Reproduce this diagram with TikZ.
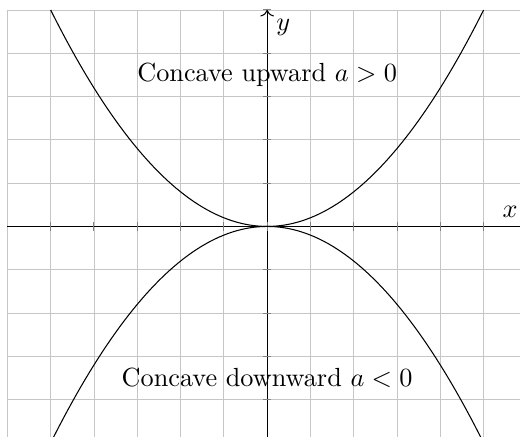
\documentclass[tikz,border=0pt]{standalone}
\usepackage{amsmath,amssymb}
\usepackage{tikz}
\usetikzlibrary{arrows.meta,positioning}

\begin{document}
\begin{tikzpicture}[
  scale=0.58,
  every node/.style={font=\normalsize},
  gridline/.style={gray!45, line width=0.3pt},
  axis/.style={->, line width=0.4pt},
  tickmark/.style={line width=0.4pt, gray},
  curve/.style={line width=0.4pt, black},
]

\useasboundingbox (-6.17,-4.86) rectangle (5.84,5.23);

% Grid
\draw[gridline] (-6,-5) grid (6,5);

% Axes
\coordinate (xmin) at (-6,0);
\coordinate (xmax) at (6,0);
\coordinate (ymin) at (0,-5);
\coordinate (ymax) at (0,5);
\draw[axis] (xmin) -- (xmax);
\draw[axis] (ymin) -- (ymax);

% Tick marks
\foreach \t in {-5,...,5} {
  \draw[tickmark] (\t,-0.1) -- (\t,0.1);
  \draw[tickmark] (-0.1,\t) -- (0.1,\t);
}

% Axis labels
\node[above left] (xlabel) at (xmax) {$x$};
\node[below right] (ylabel) at (ymax) {$y$};

% Parabolas
\draw[curve] plot[domain=-5:5, samples=101] (\x, {0.2*\x*\x});
\draw[curve] plot[domain=-5:5, samples=101] (\x, {-0.2*\x*\x});

% Labels
\node (up) at (0,3.5) {Concave upward $a>0$};
\node (down) at (0,-3.5) {Concave downward $a<0$};

\end{tikzpicture}
\end{document}
